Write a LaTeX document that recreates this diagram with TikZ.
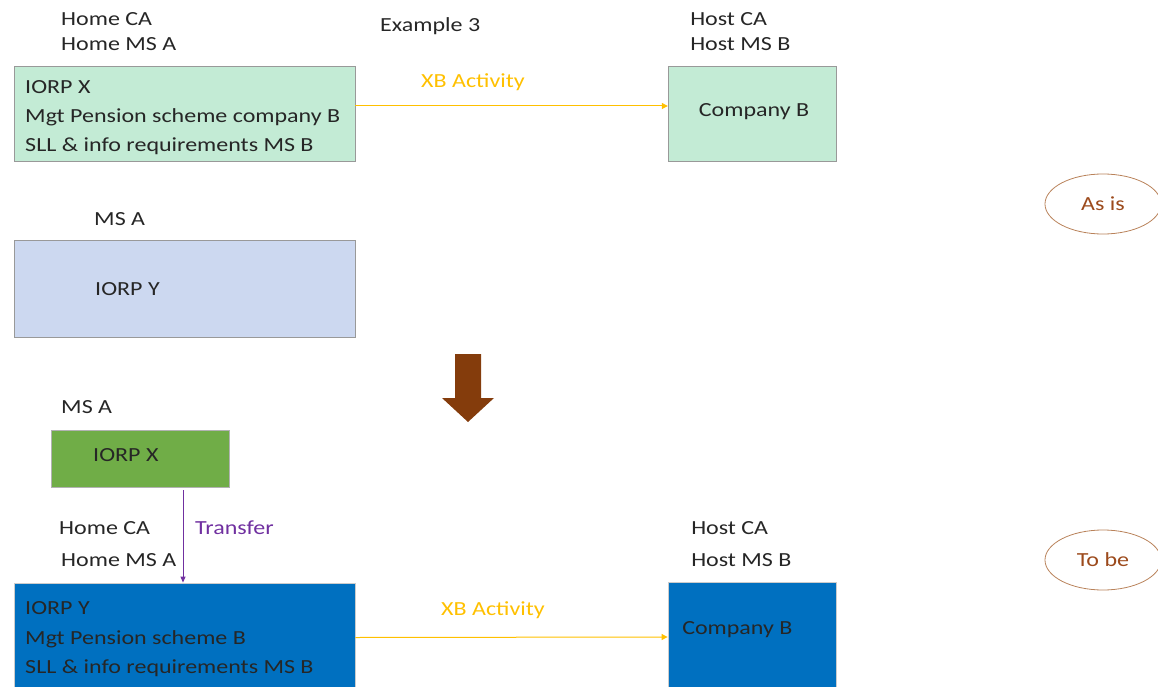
\documentclass[tikz,border=0pt]{standalone}
\usepackage{fontspec}
\setmainfont{Carlito}
\usetikzlibrary{arrows.meta,shapes.geometric}
\definecolor{txt}{HTML}{262626}
\definecolor{mint}{HTML}{C3EBD5}
\definecolor{lblue}{HTML}{CCD8F0}
\definecolor{gfill}{HTML}{70AD47}
\definecolor{bfill}{HTML}{0070C0}
\definecolor{gold}{HTML}{FFC000}
\definecolor{purp}{HTML}{7030A0}
\definecolor{brn}{HTML}{843C0C}
\definecolor{ellline}{HTML}{B9825A}
\definecolor{elltxt}{HTML}{9C4A1C}
\begin{document}
\begin{tikzpicture}[x=1pt,y=-1pt,
  every node/.style={font=\fontsize{20}{24}\selectfont, text=txt, inner sep=0pt},
  lbl/.style={anchor=mid west, xscale=1.2},
  ctr/.style={xscale=1.2},
  boxmint/.style={draw=gray!80, line width=0.8pt, fill=mint},
  boxblue/.style={draw=gray!80, line width=0.8pt, fill=lblue},
  boxgreen/.style={draw=gray!60, line width=0.8pt, fill=gfill},
  boxdeep/.style={draw=gray!40, line width=0.8pt, fill=bfill},
  xb/.style={draw=gold, line width=1pt, -{Triangle[length=6pt,width=6pt]}},
  tr/.style={draw=purp, line width=1pt, -{Triangle[length=6pt,width=5pt]}},
  ell/.style={ellipse, draw=ellline, line width=0.8pt, minimum width=96.7pt, minimum height=60pt, text=elltxt, xscale=1.2}
]
\useasboundingbox (0,0) rectangle (1158,687);

% ---------- As is ----------
\node[lbl] (hca1) at (61,23) {Home CA};
\node[lbl] (hms1) at (61,48) {Home MS A};
\node[lbl] (ex3) at (380,29) {Example 3};
\node[lbl] (hoca1) at (690,23) {Host CA};
\node[lbl] (homs1) at (690,48) {Host MS B};

\draw[boxmint] (14,66) rectangle (355,161);
\node (box1) at (184.5,113.5) [minimum width=341pt, minimum height=95pt] {};
\node[lbl] (b1l1) at (25,91) {IORP X};
\node[lbl] (b1l2) at (25,120) {Mgt Pension scheme company B};
\node[lbl] (b1l3) at (25,149) {SLL \& info requirements MS B};

\draw[boxmint] (668,66) rectangle (836,161);
\node (comp1) at (752,113.5) [minimum width=168pt, minimum height=95pt] {};
\node[ctr] (comp1t) at (754,112) {Company B};

\draw[xb] ([yshift=7.5pt]box1.east) -- ([yshift=7.5pt]comp1.west);
\node[ctr, text=gold] (xbl1) at (473,82) {XB Activity};

\node[ell] (asis) at (1103,204) {As is};

\node[lbl] (msa1) at (94,223) {MS A};
\draw[boxblue] (14,240) rectangle (355,337);
\node[lbl] (iorpy) at (95,293) {IORP Y};

% ---------- big arrow ----------
\fill[brn] (455,354) -- (481,354) -- (481,398) -- (494,398) -- (468,422) -- (442,398) -- (455,398) -- cycle;

% ---------- To be ----------
\node[lbl] (msa2) at (61,411) {MS A};
\node[boxgreen, minimum width=178pt, minimum height=57pt] (iorpx) at (140,458.5) {};
\node[lbl] (iorpxt) at (93,459) {IORP X};

\node[lbl] (hca2) at (59,532) {Home CA};
\node[lbl] (hms2) at (61,564) {Home MS A};
\node[lbl] (hoca2) at (691,532) {Host CA};
\node[lbl] (homs2) at (691,564) {Host MS B};

\node[boxdeep, minimum width=341pt, minimum height=109pt] (boxy) at (184.5,637.5) {};
\node[lbl] (b2l1) at (25,612) {IORP Y};
\node[lbl] (b2l2) at (25,642) {Mgt Pension scheme B};
\node[lbl] (b2l3) at (25,671) {SLL \& info requirements MS B};

\draw[tr] ([xshift=43pt,yshift=-3pt]iorpx.south) -- ([xshift=43pt]iorpx.south |- boxy.north);
\node[lbl, text=purp] (trl) at (195,532) {Transfer};

\node[boxdeep, minimum width=168pt, minimum height=110pt] (comp2) at (752,637) {};
\node[lbl] (comp2t) at (682,632) {Company B};

\draw[xb] (boxy.east) -- (comp2.west);
\node[ctr, text=gold] (xbl2) at (493,610) {XB Activity};

\node[ell] (tobe) at (1103,560) {To be};
\end{tikzpicture}
\end{document}
